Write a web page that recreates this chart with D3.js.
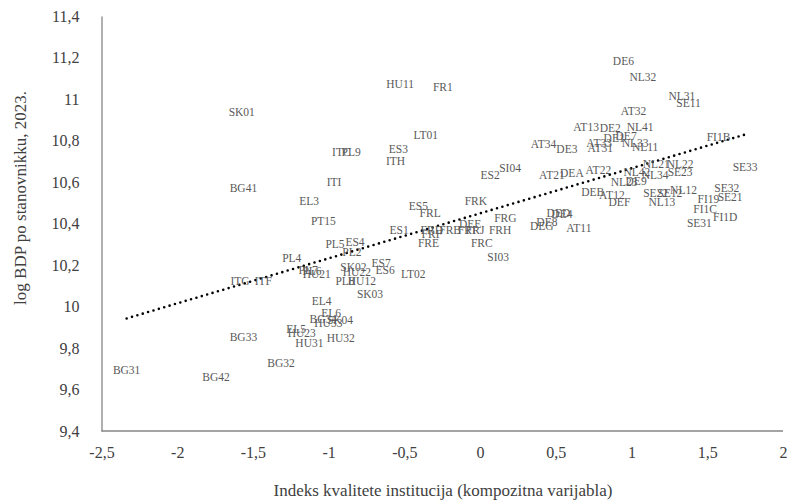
<!DOCTYPE html>
<html>
<head>
<meta charset="utf-8">
<script src="https://cdn.jsdelivr.net/npm/d3@7"></script>
<style>
  body { margin: 0; background: #fff; }
  svg text { font-family: "Liberation Serif", "Times New Roman", Tinos, "DejaVu Serif", serif !important; }
</style>
</head>
<body>
<svg id="chart"></svg>
<script>
// regions (data labels), institution index (x) and log GDP per capita (y)
const regions = [
  "SK01","BG41","ITI","EL3","ITC","PL9","HU11","FR1","LT01","ES3","ITH","ES2","SI04","FRK","ES5","FRL",
  "DE6","NL32","NL31","SE11","AT32","AT13","DE2","NL41","DE1","DE7","NL33","AT33","AT31","NL11","AT34","DE3",
  "FI1B","SE33","AT21","DEA","AT22","NL21","NL22","SE23","NL42","NL34","NL23","DE9","DEB","AT12","DEF","SE22",
  "SE12","NL12","NL13","SE32","FI19","SE21","FI1C","FI1D","SE31","DED","DE4","DE8","DEG","AT11","FRG","DEE",
  "ES1","FRD","FRF","FRE","FRB","FRI","FRJ","FRH","FRC","SI03","PT15","PL5","ES4","PL2","PL4","PL7",
  "PL6","HU21","SK02","HU22","ES7","ES6","LT02","PL8","HU12","SK03","ITG","ITF","EL4","EL6","BG34","HU33",
  "SK04","EL5","HU23","HU31","HU32","BG33","BG32","BG31","BG42"
];
const institutions = [
  -1.574,-1.563,-0.964,-1.129,-0.916,-0.852,-0.528,-0.246,-0.359,-0.540,-0.558,0.066,0.198,-0.028,-0.408,-0.330,
  0.946,1.075,1.332,1.376,1.013,0.700,0.859,1.057,0.885,0.964,1.024,0.786,0.793,1.090,0.418,0.573,
  1.574,1.750,0.474,0.606,0.781,1.163,1.321,1.321,1.035,1.156,0.951,1.030,0.743,0.870,0.920,1.159,
  1.252,1.343,1.200,1.629,1.508,1.651,1.486,1.618,1.448,0.517,0.540,0.441,0.407,0.652,0.167,-0.066,
  -0.535,-0.319,-0.319,-0.341,-0.198,-0.088,-0.033,0.132,0.011,0.119,-1.035,-0.958,-0.826,-0.847,-1.244,-1.136,
  -1.110,-1.079,-0.837,-0.814,-0.654,-0.627,-0.441,-0.892,-0.781,-0.727,-1.585,-1.431,-1.047,-0.984,-1.035,-1.002,
  -0.925,-1.215,-1.178,-1.127,-0.920,-1.563,-1.314,-2.334,-1.744
];
const logGdp = [
  10.939,10.573,10.601,10.508,10.746,10.746,11.071,11.059,10.827,10.759,10.699,10.636,10.667,10.508,10.486,10.452,
  11.183,11.107,11.014,10.979,10.942,10.867,10.859,10.867,10.812,10.824,10.787,10.786,10.764,10.768,10.782,10.757,
  10.818,10.674,10.634,10.645,10.658,10.689,10.685,10.650,10.650,10.634,10.600,10.605,10.551,10.537,10.505,10.547,
  10.547,10.561,10.505,10.570,10.518,10.529,10.468,10.433,10.401,10.449,10.446,10.409,10.388,10.378,10.425,10.398,
  10.371,10.369,10.348,10.307,10.369,10.369,10.369,10.369,10.307,10.241,10.413,10.301,10.309,10.264,10.235,10.178,
  10.171,10.155,10.192,10.165,10.211,10.176,10.155,10.123,10.124,10.059,10.123,10.123,10.026,9.967,9.938,9.922,
  9.935,9.890,9.871,9.823,9.847,9.854,9.729,9.694,9.659
];

// linear trend
const trendSlope = 0.217;
const trendIntercept = 10.449;

const xTicks = [-2.5, -2, -1.5, -1, -0.5, 0, 0.5, 1, 1.5, 2];
const yTicks = [9.4, 9.6, 9.8, 10, 10.2, 10.4, 10.6, 10.8, 11, 11.2, 11.4];

const data = regions.map((r, i) => ({ region: r, x: institutions[i], y: logGdp[i] }));

const svgWidth = 788, svgHeight = 503;
const margin = {top: 16, right: 5, bottom: 72, left: 101.5};
const width = svgWidth - margin.left - margin.right,
      height = svgHeight - margin.top - margin.bottom;

const serif = '"Liberation Serif", "Times New Roman", Tinos, "DejaVu Serif", serif';

const svg = d3.select("#chart")
    .attr("width", svgWidth)
    .attr("height", svgHeight);

const g = svg.append("g")
    .attr("transform", `translate(${margin.left},${margin.top})`);

const xScale = d3.scaleLinear().domain([-2.5, 2]).range([0, 681.5]);
const yScale = d3.scaleLinear().domain([9.4, 11.4]).range([height, 0]);

const locale = d3.formatLocale({decimal: ",", thousands: ".", grouping: [3], currency: ["", ""], minus: "-"});
const fmt = locale.format("~g");

// x axis
const xAxis = g.append("g")
    .attr("transform", `translate(0,${height})`)
    .call(d3.axisBottom(xScale).tickValues(xTicks).tickFormat(fmt).tickSize(0).tickPadding(16));
xAxis.attr("font-family", serif);
xAxis.select(".domain").attr("stroke", "#868686").attr("stroke-width", 1.3).attr("d", `M0,0H${width}`);
xAxis.selectAll("text").attr("fill", "#404040").style("font-size", "16px");

// y axis
const yAxis = g.append("g")
    .call(d3.axisLeft(yScale).tickValues(yTicks).tickFormat(fmt).tickSize(0).tickPadding(22));
yAxis.attr("font-family", serif);
yAxis.select(".domain").attr("stroke", "#868686").attr("stroke-width", 1.3);
yAxis.selectAll("text").attr("fill", "#404040").style("font-size", "16px");

// trend line
const xExt = d3.extent(data, d => d.x);
const trendLine = d3.line()
    .x(d => xScale(d))
    .y(d => yScale(trendIntercept + trendSlope * d));
g.append("path")
    .datum(xExt)
    .attr("d", trendLine)
    .attr("fill", "none")
    .attr("stroke", "#000")
    .attr("stroke-width", 2.6)
    .attr("stroke-linecap", "round")
    .attr("stroke-dasharray", "0 5.6");

// data labels (centred on the points, no markers)
g.append("g").selectAll("text")
    .data(data)
    .enter()
    .append("text")
    .attr("x", d => xScale(d.x))
    .attr("y", d => yScale(d.y))
    .attr("dy", "0.35em")
    .attr("text-anchor", "middle")
    .attr("fill", "#595959")
    .style("font-size", "11.5px")
    .text(d => d.region);

// axis titles
svg.append("text")
    .attr("x", 443)
    .attr("y", 496)
    .attr("text-anchor", "middle")
    .attr("fill", "#404040")
    .style("font-size", "17px")
    .text("Indeks kvalitete institucija (kompozitna varijabla)");

svg.append("text")
    .attr("transform", "translate(26,198) rotate(-90)")
    .attr("text-anchor", "middle")
    .attr("fill", "#404040")
    .style("font-size", "17px")
    .text("log BDP po stanovnikku, 2023.");
</script>
</body>
</html>
